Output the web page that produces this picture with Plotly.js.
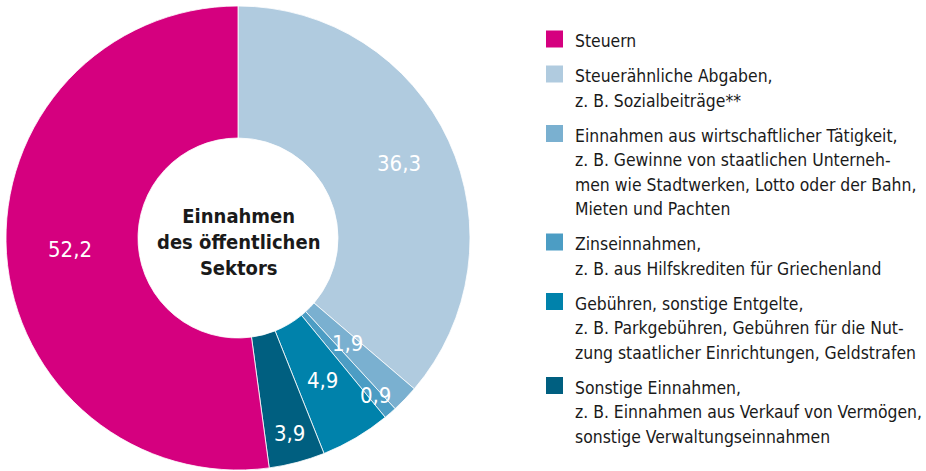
<!DOCTYPE html>
<html>
<head>
<meta charset="utf-8">
<script src="https://cdn.plot.ly/plotly-3.0.1.min.js"></script>
<style>html,body{margin:0;padding:0;background:#fff;}#chart{width:926px;height:471px;}</style>
</head>
<body>
<div id="chart"></div>
<script>
// ---- data (legend order) ----
const categories = [
  "Steuern",
  "Steuerähnliche Abgaben",
  "Einnahmen aus wirtschaftlicher Tätigkeit",
  "Zinseinnahmen",
  "Gebühren, sonstige Entgelte",
  "Sonstige Einnahmen"
];
const values = [52.2, 36.3, 1.9, 0.9, 4.9, 3.9];
const legendLines = [
  ["Steuern"],
  ["Steuerähnliche Abgaben,", "z. B. Sozialbeiträge**"],
  ["Einnahmen aus wirtschaftlicher Tätigkeit,", "z. B. Gewinne von staatlichen Unterneh-", "men wie Stadtwerken, Lotto oder der Bahn,", "Mieten und Pachten"],
  ["Zinseinnahmen,", "z. B. aus Hilfskrediten für Griechenland"],
  ["Gebühren, sonstige Entgelte,", "z. B. Parkgebühren, Gebühren für die Nut-", "zung staatlicher Einrichtungen, Geldstrafen"],
  ["Sonstige Einnahmen,", "z. B. Einnahmen aus Verkauf von Vermögen,", "sonstige Verwaltungseinnahmen"]
];
const centerTitle = ["Einnahmen", "des öffentlichen", "Sektors"];

// ---- styling ----
const colors = ["#d5007f", "#b0cbdf", "#7ab0d0", "#4c9dc4", "#0082ab", "#005f80"];
const pieOrder = [1, 2, 3, 4, 5, 0];          // clockwise from 12 o'clock
const labelRadius = [168, 177, 152, 209, 166, 202]; // px from centre, per category
const W = 926, H = 471;
const cx = 238, cy = 238, R = 232, rHole = 100;
const FONT = "'DejaVu Sans Condensed', 'Liberation Sans Narrow', sans-serif";

const fmt = v => v.toFixed(1).replace('.', ',');

const pieLabels = pieOrder.map(i => categories[i]);
const pieValues = pieOrder.map(i => values[i]);
const pieColors = pieOrder.map(i => colors[i]);

const trace = {
  type: 'pie',
  labels: pieLabels,
  values: pieValues,
  sort: false,
  direction: 'clockwise',
  rotation: 0,
  hole: rHole / R,
  marker: {colors: pieColors, line: {color: '#ffffff', width: 0.8}},
  textinfo: 'none',
  hoverinfo: 'label+value',
  showlegend: false,
  domain: {x: [(cx - R) / W, (cx + R) / W], y: [1 - (cy + R) / H, 1 - (cy - R) / H]}
};

const annotations = [];
const shapes = [];

// slice value labels at mid-angle
const total = values.reduce((a, b) => a + b, 0);
let cum = 0;
pieOrder.forEach(i => {
  const mid = (cum + values[i] / 2) / total * 2 * Math.PI;
  cum += values[i];
  const r = labelRadius[i];
  const px = cx + r * Math.sin(mid), py = cy - r * Math.cos(mid);
  annotations.push({
    xref: 'paper', yref: 'paper', x: px / W, y: 1 - py / H,
    text: fmt(values[i]), showarrow: false, xanchor: 'center', yanchor: 'middle',
    font: {family: FONT, size: 22, color: '#ffffff'}
  });
});

// centre title
annotations.push({
  xref: 'paper', yref: 'paper', x: cx / W, y: 1 - 242 / H,
  text: centerTitle.map(t => '<b>' + t + '</b>').join('<br>'),
  showarrow: false, xanchor: 'center', yanchor: 'middle', align: 'center',
  font: {family: FONT, size: 20, color: '#1a1a1a'}
});

// custom legend
const lineH = 24.5, itemGap = 35, sq = 17;
let yLine = 41;
categories.forEach((c, i) => {
  shapes.push({
    type: 'rect', xref: 'paper', yref: 'paper',
    x0: 546 / W, x1: (546 + sq) / W,
    y0: 1 - (yLine - 2 - sq / 2) / H, y1: 1 - (yLine - 2 + sq / 2) / H,
    fillcolor: colors[i], line: {width: 0}
  });
  legendLines[i].forEach((t, k) => {
    annotations.push({
      xref: 'paper', yref: 'paper', x: 573 / W, y: 1 - (yLine + k * lineH) / H,
      text: t, showarrow: false, xanchor: 'left', yanchor: 'middle',
      font: {family: FONT, size: 17.4, color: '#1a1a1a'}
    });
  });
  yLine += (legendLines[i].length - 1) * lineH + itemGap;
});

const layout = {
  width: W, height: H,
  margin: {l: 0, r: 0, t: 0, b: 0},
  paper_bgcolor: '#ffffff',
  separators: ',.',
  showlegend: false,
  annotations: annotations,
  shapes: shapes
};

Plotly.newPlot('chart', [trace], layout, {displayModeBar: false, staticPlot: true});
</script>
</body>
</html>
